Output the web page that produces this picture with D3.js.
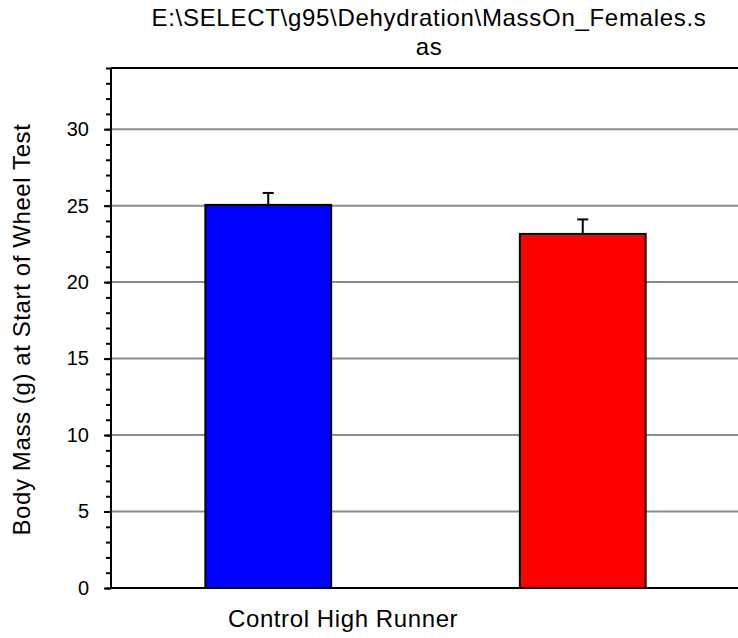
<!DOCTYPE html>
<html>
  <head>
    <meta charset="utf-8" />
    <style>
      body {
        margin: 0;
        background: #fff;
        font-family: "Liberation Sans", Arial, sans-serif;
      }
      svg {
        display: block;
      }
      .grid line {
        stroke: #8c8c8c;
        stroke-width: 2px;
      }
      .y .domain {
        display: none;
      }
      .y .tick line {
        stroke: #000;
        stroke-width: 2px;
      }
      .y .tick text {
        font-size: 20px;
        fill: #000;
      }
      .title {
        font-size: 24px;
        letter-spacing: 0.7px;
      }
      .axis-label {
        font-size: 24px;
        letter-spacing: 0.6px;
      }
    </style>
  </head>
  <body>
    <svg width="738" height="638"></svg>

    <script src="https://d3js.org/d3.v7.min.js"></script>
    <script>
      // data
      let categories = ["Control", "High Runner"];
      let means = [25.05, 23.15];
      let errors = [0.78, 0.95];
      let majorTicks = [0, 5, 10, 15, 20, 25, 30];
      let minorTicks = d3.range(0, 35, 1);
      let titleLines = ["E:\\SELECT\\g95\\Dehydration\\MassOn_Females.s", "as"];
      let yLabel = "Body Mass (g) at Start of Wheel Test";

      let barColors = ["#0000ff", "#ff0000"];

      let svg = d3.select("svg");

      let margin = { top: 68, left: 111, bottom: 50 };
      let plotRight = 740; // plot frame runs off the right edge
      let height = 638;

      let x = d3
        .scalePoint()
        .domain(categories)
        .range([margin.left, plotRight])
        .padding(0.5);

      let y = d3
        .scaleLinear()
        .domain([0, 34])
        .range([height - margin.bottom, margin.top]);

      let barWidth = x.step() * 0.4;

      // gridlines
      svg
        .append("g")
        .attr("class", "grid")
        .selectAll("line")
        .data(majorTicks.filter((d) => d > 0))
        .join("line")
        .attr("x1", margin.left)
        .attr("x2", plotRight)
        .attr("y1", (d) => y(d))
        .attr("y2", (d) => y(d));

      // minor ticks
      svg
        .append("g")
        .attr("class", "y axis")
        .attr("transform", `translate(${margin.left}, 0)`)
        .call(d3.axisLeft(y).tickValues(minorTicks).tickSize(5).tickFormat(""));

      // major ticks + labels
      svg
        .append("g")
        .attr("class", "y axis")
        .attr("transform", `translate(${margin.left}, 0)`)
        .call(
          d3.axisLeft(y).tickValues(majorTicks).tickSize(7).tickPadding(15)
        );

      let data = categories.map((c, i) => ({
        cat: c,
        mean: means[i],
        se: errors[i],
        color: barColors[i],
      }));

      // error bars (upper only), drawn before bars
      let err = svg.append("g").attr("class", "errors");
      err
        .selectAll(".stem")
        .data(data)
        .join("line")
        .attr("x1", (d) => x(d.cat))
        .attr("x2", (d) => x(d.cat))
        .attr("y1", (d) => y(d.mean))
        .attr("y2", (d) => y(d.mean + d.se))
        .attr("stroke", "#000")
        .attr("stroke-width", 2);
      err
        .selectAll(".cap")
        .data(data)
        .join("line")
        .attr("x1", (d) => x(d.cat) - 5.5)
        .attr("x2", (d) => x(d.cat) + 5.5)
        .attr("y1", (d) => y(d.mean + d.se))
        .attr("y2", (d) => y(d.mean + d.se))
        .attr("stroke", "#000")
        .attr("stroke-width", 2);

      // bars
      svg
        .append("g")
        .selectAll("rect")
        .data(data)
        .join("rect")
        .attr("x", (d) => x(d.cat) - barWidth / 2)
        .attr("width", barWidth)
        .attr("y", (d) => y(d.mean))
        .attr("height", (d) => y(0) - y(d.mean))
        .attr("fill", (d) => d.color)
        .attr("stroke", "#000")
        .attr("stroke-width", 2);

      // frame: left, top, bottom
      let frame = svg.append("g").attr("stroke", "#000").attr("stroke-width", 2);
      frame
        .append("line")
        .attr("x1", margin.left)
        .attr("x2", margin.left)
        .attr("y1", y(34))
        .attr("y2", y(0));
      frame
        .append("line")
        .attr("x1", margin.left)
        .attr("x2", plotRight)
        .attr("y1", y(34))
        .attr("y2", y(34));
      frame
        .append("line")
        .attr("x1", margin.left)
        .attr("x2", plotRight)
        .attr("y1", y(0))
        .attr("y2", y(0));

      // title
      let titleX = 429;
      svg
        .append("text")
        .attr("class", "title")
        .attr("text-anchor", "middle")
        .attr("x", titleX)
        .attr("y", 26)
        .selectAll("tspan")
        .data(titleLines)
        .join("tspan")
        .attr("x", titleX)
        .attr("dy", (d, i) => (i === 0 ? 0 : 29))
        .text((d) => d);

      // axis labels
      svg
        .append("text")
        .attr("class", "axis-label")
        .attr("text-anchor", "start")
        .attr("x", 228)
        .attr("y", 627)
        .text(categories.join(" "));

      svg
        .append("text")
        .attr("class", "axis-label")
        .attr("text-anchor", "middle")
        .attr("transform", `translate(30, ${y(16.9)}) rotate(-90)`)
        .text(yLabel);
    </script>
  </body>
</html>
